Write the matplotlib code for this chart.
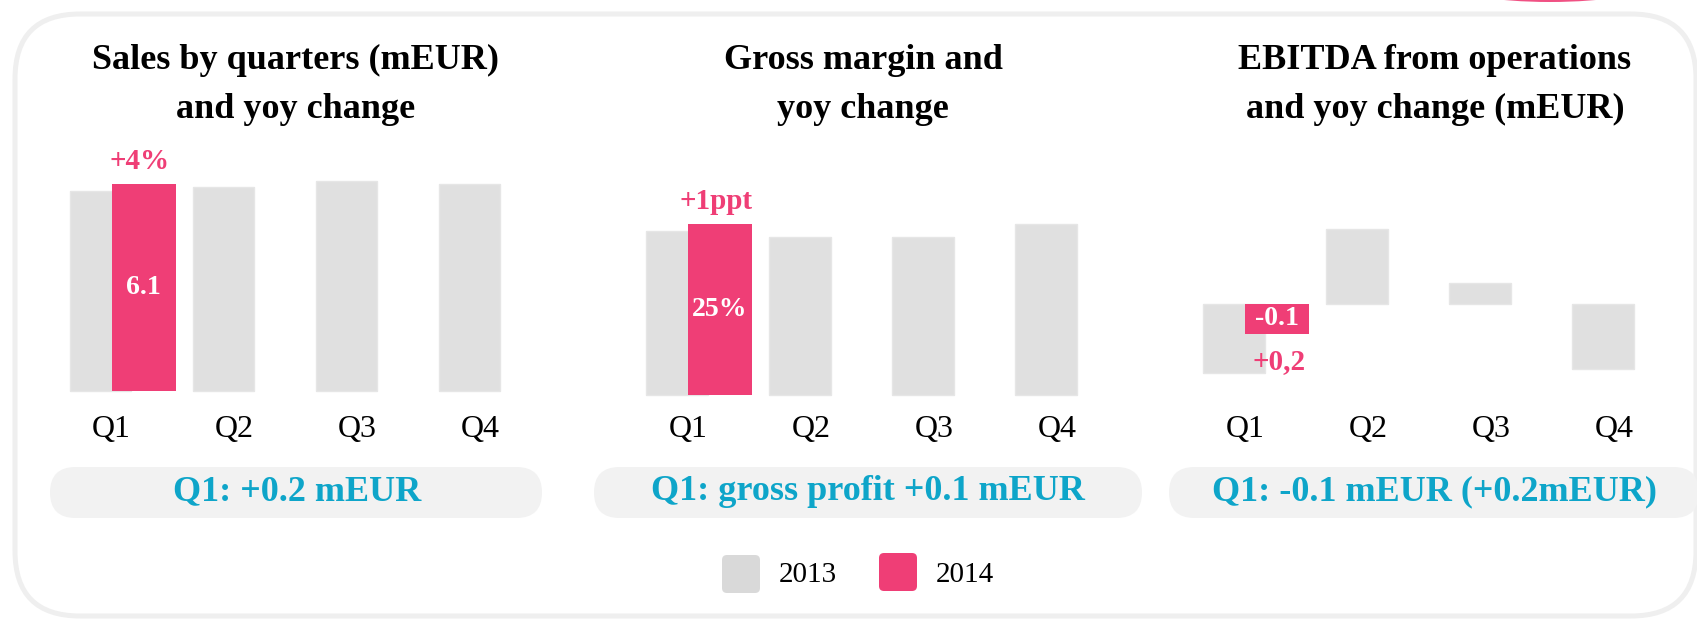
import matplotlib
matplotlib.use("Agg")
import matplotlib.pyplot as plt
import numpy as np
from matplotlib.patches import FancyBboxPatch, Ellipse

plt.rcParams["font.family"] = ["Liberation Serif", "DejaVu Serif"]

# --- data -------------------------------------------------------------
quarters = ["Q1", "Q2", "Q3", "Q4"]
years = ["2013", "2014"]

sales_2013 = [5.9, 6.0, 6.2, 6.1]
sales_2014 = [6.1]
margin_2013 = [24.0, 23.1, 23.1, 25.0]
margin_2014 = [25.0]
ebitda_2013 = [-0.30, 0.32, 0.09, -0.28]
ebitda_2014 = [-0.13]

titles = ["Sales by quarters (mEUR)\nand yoy change",
          "Gross margin and\nyoy change",
          "EBITDA from operations\nand yoy change (mEUR)"]
value_labels = ["6.1", "25%", "-0.1"]
change_labels = ["+4%", "+1ppt", "+0,2"]
summaries = ["Q1: +0.2 mEUR",
             "Q1: gross profit +0.1 mEUR",
             "Q1: -0.1 mEUR (+0.2mEUR)"]

# --- style ------------------------------------------------------------
W, H = 1697, 619
GREY = "#e0e0e0"
PINK = "#ef3e76"
CYAN = "#0ea5c9"
PILL = "#f2f2f2"
BORDER = "#efefef"
STEP = 123.0          # px between quarter centres
BW13, BW14, OFF14 = 0.5, 0.52, 0.35

fig = plt.figure(figsize=(W / 100, H / 100), dpi=100)
fig.patch.set_facecolor("white")

# background / decoration layer in pixel coordinates (y downwards)
bg = fig.add_axes([0, 0, 1, 1])
bg.set_xlim(0, W)
bg.set_ylim(H, 0)
bg.set_axis_off()

bg.add_patch(FancyBboxPatch((15, 14), 1681, 602,
                            boxstyle="round,pad=0,rounding_size=65",
                            fc="none", ec=BORDER, lw=3.6))
# bit of the pink badge peeking in from above
bg.add_patch(Ellipse((1550, -16), 200, 36, fc=PINK, ec="none", alpha=0.9))

pills = [(50, 492), (594, 548), (1169, 530)]
for (px, pw) in pills:
    bg.add_patch(FancyBboxPatch((px, 467), pw, 51,
                                boxstyle="round,pad=0,rounding_size=25.5",
                                fc=PILL, ec="none"))

title_x = [296, 863, 1435]
pill_text_x = [297, 868, 1434]
for tx, t, px, s in zip(title_x, titles, pill_text_x, summaries):
    bg.text(tx, 85, t, ha="center", va="center", fontsize=26,
            fontweight="bold", color="black", linespacing=1.62)
    bg.text(px, 492, s, ha="center", va="center", fontsize=26,
            fontweight="bold", color=CYAN)

# legend
for (lx, ly), col, yr in zip([(722, 555), (879, 553)], ["#d9d9d9", PINK], years):
    bg.add_patch(FancyBboxPatch((lx, ly), 38, 38,
                                boxstyle="round,pad=0,rounding_size=5",
                                fc=col, ec="none"))
    bg.text(lx + 57, 575, yr, ha="left", va="center", fontsize=21)


def panel_axes(x0, base, ppu, top=120, bottom=400):
    """Axes so that quarter 0 sits at pixel x0 and value 0 at pixel row base."""
    left = x0 - 0.75 * STEP
    right = x0 + 3.75 * STEP
    ax = fig.add_axes([left / W, (H - bottom) / H, (right - left) / W,
                       (bottom - top) / H])
    ax.set_xlim(-0.75, 3.75)
    ax.set_ylim(-(bottom - base) / ppu, (base - top) / ppu)
    ax.patch.set_alpha(0)
    for sp in ax.spines.values():
        sp.set_visible(False)
    ax.set_yticks([])
    ax.set_xticks(np.arange(len(quarters)) + 0.09)
    ax.set_xticklabels(quarters, fontsize=23)
    ax.tick_params(axis="x", length=0, pad=11)
    return ax


panels = [
    (sales_2013, sales_2014, panel_axes(100.5, 391, 33.93)),
    (margin_2013, margin_2014, panel_axes(677, 395, 6.84)),
    (ebitda_2013, ebitda_2014, panel_axes(1234, 303.5, 233.0)),
]

x = np.arange(len(quarters))
for i, (v13, v14, ax) in enumerate(panels):
    ax.bar(x, v13, width=BW13, color=GREY, edgecolor="#e6e6e6", lw=1)
    b = ax.bar(x[:1] + OFF14, v14, width=BW14, color=PINK)
    rect = b[0]
    cx = rect.get_x() + rect.get_width() / 2
    ax.text(cx, v14[0] / 2, value_labels[i], ha="center", va="center",
            fontsize=20, fontweight="bold", color="white")
    if v14[0] >= 0:
        ax.annotate(change_labels[i], (cx - 0.03, v14[0]), xytext=(0, 16),
                    textcoords="offset points", ha="center", va="center",
                    fontsize=21, fontweight="bold", color=PINK)
    else:
        ax.annotate(change_labels[i], (cx + 0.02, v14[0]), xytext=(0, -20),
                    textcoords="offset points", ha="center", va="center",
                    fontsize=21, fontweight="bold", color=PINK)

fig.savefig("out.png", dpi=100)
